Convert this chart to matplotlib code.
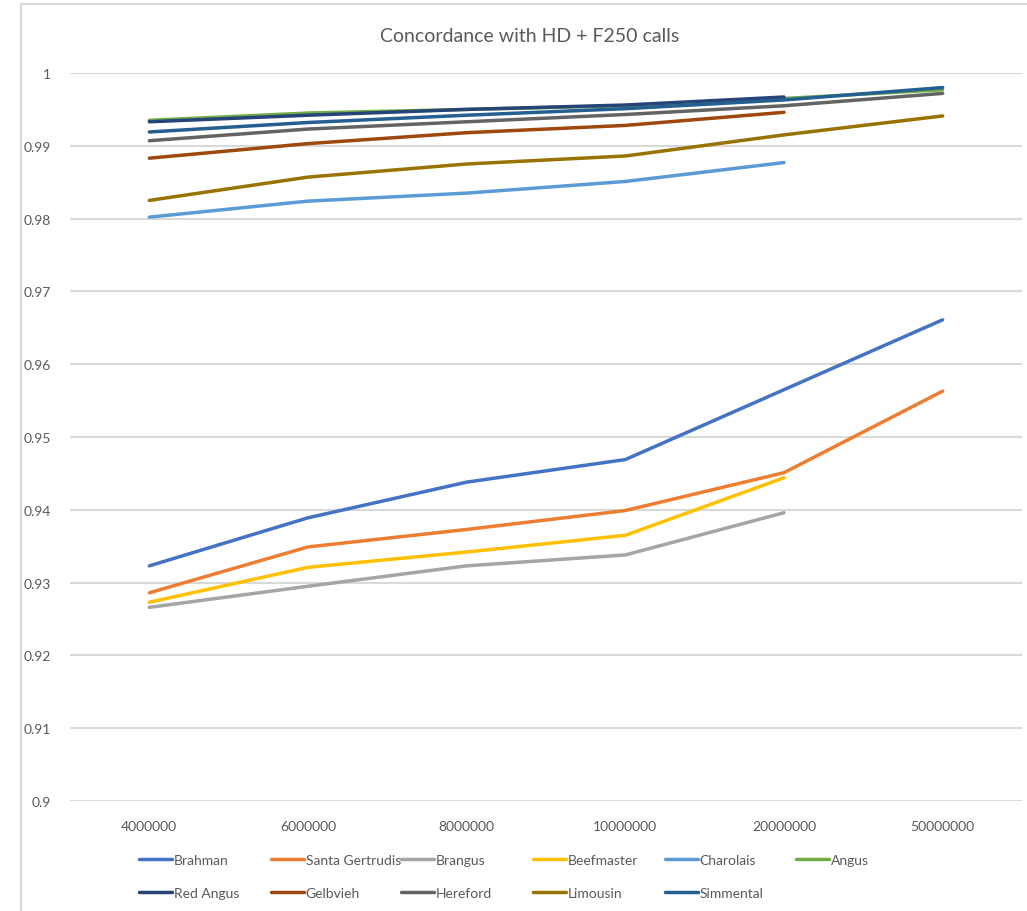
import matplotlib
matplotlib.use("Agg")
import matplotlib.pyplot as plt
import numpy as np
from matplotlib.lines import Line2D

plt.rcParams['font.family'] = ['Lato', 'DejaVu Sans']

# 数据
categories = ["4000000", "6000000", "8000000", "10000000", "20000000", "50000000"]
nan = np.nan
brahman = [0.9323, 0.9389, 0.9438, 0.9469, 0.9565, 0.9661]
santa_gertrudis = [0.9286, 0.9349, 0.9373, 0.9399, 0.9451, 0.9563]
brangus = [0.9266, 0.9295, 0.9323, 0.9338, 0.9396, nan]
beefmaster = [0.9273, 0.9321, 0.9342, 0.9365, 0.9444, nan]
charolais = [0.9802, 0.9824, 0.9835, 0.9851, 0.9877, nan]
angus = [0.9935, 0.9945, 0.9950, 0.9955, 0.9965, 0.9977]
red_angus = [0.9933, 0.9942, 0.9950, 0.9956, 0.9967, nan]
gelbvieh = [0.9883, 0.9903, 0.9918, 0.9928, 0.9946, nan]
hereford = [0.9907, 0.9923, 0.9933, 0.9943, 0.9955, 0.9972]
limousin = [0.9825, 0.9857, 0.9875, 0.9886, 0.9915, 0.9941]
simmental = [0.9919, 0.9932, 0.9942, 0.9951, 0.9963, 0.9980]

series = [
    ("Brahman", brahman, "#4472C4"),
    ("Santa Gertrudis", santa_gertrudis, "#ED7D31"),
    ("Brangus", brangus, "#A5A5A5"),
    ("Beefmaster", beefmaster, "#FFC000"),
    ("Charolais", charolais, "#5B9BD5"),
    ("Angus", angus, "#70AD47"),
    ("Red Angus", red_angus, "#264478"),
    ("Gelbvieh", gelbvieh, "#9E480E"),
    ("Hereford", hereford, "#636363"),
    ("Limousin", limousin, "#997300"),
    ("Simmental", simmental, "#255E91"),
]

W, H = 1027, 912
fig = plt.figure(figsize=(W / 100, H / 100), dpi=100)
ax = fig.add_axes([70 / W, 1 - 802 / H, (1022 - 70) / W, (802 - 74) / H])

x = np.arange(len(categories))
handles = []
for name, vals, color in series:
    ln, = ax.plot(x, vals, color=color, lw=2.5, label=name, solid_capstyle="round")
    handles.append(ln)

ax.set_xlim(-0.5, len(categories) - 0.5)
ax.set_ylim(0.9, 1.0)
ax.set_yticks(np.arange(0.9, 1.0001, 0.01))
ax.set_yticklabels(["0.9", "0.91", "0.92", "0.93", "0.94", "0.95", "0.96", "0.97", "0.98", "0.99", "1"])
ax.set_xticks(x)
ax.set_xticklabels(categories)
ax.tick_params(axis="both", length=0, labelsize=10, labelcolor="#595959")
ax.tick_params(axis="y", pad=14)
ax.tick_params(axis="x", pad=14)
ax.grid(axis="y", color="#D9D9D9", lw=1.5)
ax.set_axisbelow(True)
for s in ax.spines.values():
    s.set_visible(False)

fig.text(530 / W, 1 - 37 / H, "Concordance with HD + F250 calls", ha="center", va="center",
         fontsize=14, color="#595959")

# 图表边框
fig.add_artist(Line2D([21 / W, 1], [1 - 5 / H, 1 - 5 / H], color="#D9D9D9", lw=1.5))
fig.add_artist(Line2D([21 / W, 21 / W], [0, 1 - 5 / H], color="#D9D9D9", lw=1.5))

# 图例：每列两项
col_x = [139, 271, 401, 533, 665, 796]
for i, cx in enumerate(col_x):
    hs = [handles[j] for j in (i, i + 6) if j < len(handles)]
    leg = fig.legend(handles=hs, labels=[h.get_label() for h in hs], loc="upper left",
                     bbox_to_anchor=(cx / W, 1 - 855 / H), frameon=False, fontsize=10,
                     handlelength=2.4, handletextpad=0.1, labelspacing=1.5,
                     borderaxespad=0, borderpad=0, labelcolor="#595959")

fig.savefig("out.png", dpi=100)
